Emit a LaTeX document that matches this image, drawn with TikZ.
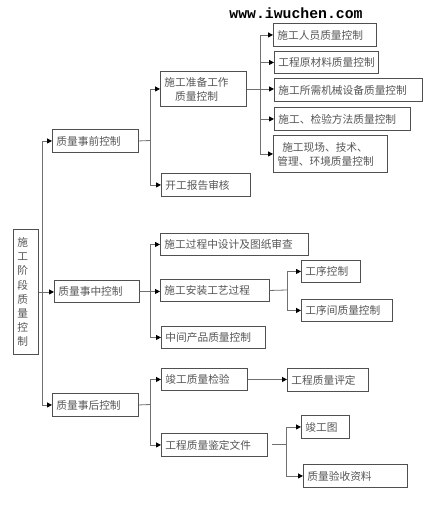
\documentclass[tikz,border=0pt]{standalone}
\usepackage{fontspec}
\newfontfamily\cjk{Noto Sans CJK SC}
\newfontfamily\urlfont{Liberation Mono}
\usetikzlibrary{arrows.meta,calc}
\definecolor{boxc}{HTML}{505050}
\definecolor{linec}{HTML}{707070}
\definecolor{txt}{HTML}{555555}
\tikzset{
  box/.style={draw=boxc, line width=0.9pt, anchor=north west, inner xsep=4pt, inner ysep=0pt,
    align=left, font=\cjk\fontsize{10.7}{14}\selectfont, text=txt},
  ln/.style={draw=linec, line width=0.8pt},
  arr/.style={draw=linec, line width=0.8pt, -{Triangle[length=5pt,width=5pt,color=black]}}
}
\newcommand\bx[6]{%
  \pgfmathsetmacro\bw{#4-#2}\pgfmathsetmacro\bh{#5-#3}\pgfmathsetmacro\tw{#4-#2-8}%
  \node[box, minimum width=\bw pt, minimum height=\bh pt, text width=\tw pt] (#1) at (#2,#3) {#6};}
\begin{document}
\begin{tikzpicture}[x=1pt,y=-1pt]
\useasboundingbox (0,0) rectangle (432,512);
\node[font=\urlfont\bfseries\fontsize{14.8}{16}\selectfont, text=black] (url) at (296,13) {www.iwuchen.com};
% root
\bx{root}{13}{229}{38}{354}{\fontsize{10.7}{14.2}\selectfont 施\\工\\阶\\段\\质\\量\\控\\制}
% level 2
\bx{pre}{52}{129}{138}{152}{质量事前控制}
\bx{mid}{54}{280}{139}{302}{质量事中控制}
\bx{post}{52}{393}{138}{416}{质量事后控制}
% pre children
\bx{prep}{160}{71}{246}{106}{施工准备工作\\\hspace*{1em}质量控制}
\bx{report}{161}{173}{250}{196}{开工报告审核}
\bx{m1}{273}{23}{376}{46}{施工人员质量控制}
\bx{m2}{274}{51}{378}{73}{工程原材料质量控制}
\bx{m3}{274}{78}{422}{101}{施工所需机械设备质量控制}
\bx{m4}{274}{107}{410}{130}{施工、检验方法质量控制}
\bx{m5}{273}{135}{387}{172}{\hspace*{0.45em}施工现场、技术、\\管理、环境质量控制}
% mid children
\bx{design}{160}{233}{308}{255}{施工过程中设计及图纸审查}
\bx{inst}{160}{279}{269}{301}{施工安装工艺过程}
\bx{inter}{161}{326}{265}{348}{中间产品质量控制}
\bx{p1}{301}{260}{360}{282}{工序控制}
\bx{p2}{301}{299}{392}{321}{工序间质量控制}
% post children
\bx{acc}{161}{368}{247}{390}{竣工质量检验}
\bx{eval}{287}{368}{368}{391}{工程质量评定}
\bx{doc}{161}{433}{267}{456}{工程质量鉴定文件}
\bx{dwg}{301}{415}{349}{438}{竣工图}
\bx{data}{303}{464}{407}{487}{质量验收资料}
% connectors: root
\coordinate (t0) at (42,291.5);
\draw[arr] (root.east) -- (root.east -| mid.west);
\draw[arr] (t0) |- (pre.west);
\draw[arr] (t0) |- (post.west);
% pre
\coordinate (b1) at (150,140.5);
\draw[ln] (pre.east) -- (b1);
\draw[arr] (b1) |- (prep.west);
\draw[arr] (b1) |- (report.west);
\coordinate (b2) at (260,88.5);
\draw[arr] (prep.east) -- (prep.east -| m3.west);
\draw[arr] (b2) |- (m1.west);
\draw[arr] (b2) |- (m2.west);
\draw[arr] (b2) |- (m4.west);
\draw[arr] (b2) |- (m5.west);
% mid
\coordinate (b3) at (150,291);
\draw[arr] (mid.east) -- (mid.east -| inst.west);
\draw[arr] (b3) |- (design.west);
\draw[arr] (b3) |- (inter.west);
\coordinate (b4) at (287,290);
\draw[ln] (inst.east) -- (b4);
\draw[arr] (b4) |- (p1.west);
\draw[arr] (b4) |- (p2.west);
% post
\coordinate (b5) at (150,404.5);
\draw[ln] (post.east) -- (b5);
\draw[arr] (b5) |- (acc.west);
\draw[arr] (b5) |- (doc.west);
\draw[arr] (acc.east) -- (acc.east -| eval.west);
\coordinate (d0) at (272,444.5);
\coordinate (b6) at (286,444.5);
\draw[ln] (d0) -- (b6);
\draw[arr] (b6) |- (dwg.west);
\draw[arr] (b6) |- (data.west);
\end{tikzpicture}
\end{document}
